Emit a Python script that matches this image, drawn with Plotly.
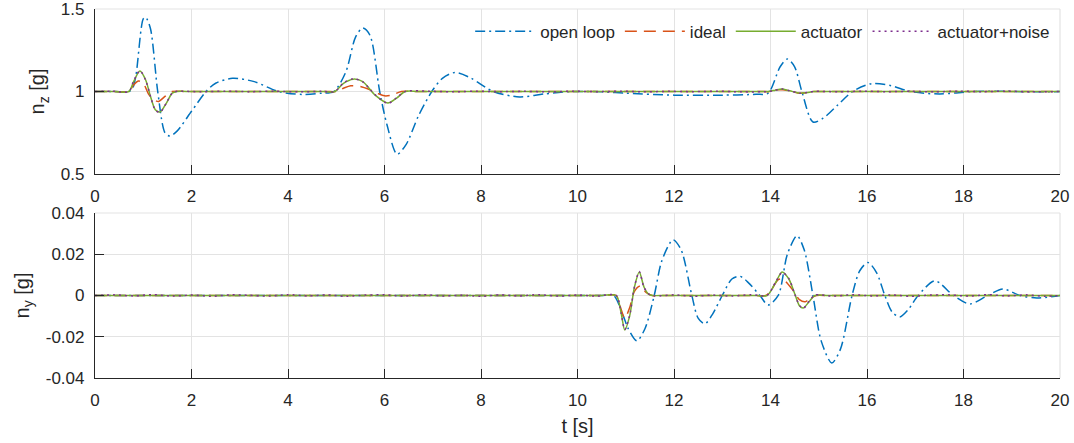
import plotly.graph_objects as go

# ---------------- data: top panel (n_z [g]) ----------------
t_nz_ol = [0, 0.4, 0.7, 0.78, 0.85, 1.0, 1.05, 1.15, 1.3, 1.45, 1.55, 1.7, 2.0, 2.3, 2.5, 2.85, 3.3, 3.8, 4.3, 4.7,
           4.95, 5.2, 5.4, 5.55, 5.7, 5.9, 6.05, 6.26, 6.45, 6.7, 6.98, 7.2, 7.46, 7.8, 8.25, 8.8, 9.3, 9.9,
           10.5, 11.0, 12.0, 13.0, 13.7, 13.95, 14.2, 14.35, 14.5, 14.65, 14.88, 15.1, 15.4, 15.7, 16.1,
           16.5, 16.9, 17.5, 18.2, 18.7, 19.5, 20]
nz_ol = [1.0, 1.0, 1.0, 1.02, 1.1, 1.44, 1.45, 1.38, 1.0, 0.75, 0.73, 0.76, 0.88, 1.0, 1.05, 1.08, 1.06, 1.0, 0.982, 0.99,
         1.0, 1.12, 1.33, 1.385, 1.34, 1.0, 0.8, 0.62, 0.68, 0.85, 1.0, 1.08, 1.115, 1.08, 1.0, 0.967, 0.985, 1.0,
         0.998, 0.99, 0.978, 0.978, 0.983, 0.99, 1.15, 1.197, 1.15, 1.0, 0.815, 0.84, 0.92, 1.0, 1.048,
         1.035, 1.0, 0.985, 1.0, 1.002, 0.998, 1.0]

t_nz_ideal = [0, 0.4, 0.7, 0.8, 0.9, 1.0, 1.12, 1.25, 1.32, 1.45, 1.6, 1.9, 2.5, 3.5, 4.5, 4.8, 5.0, 5.15, 5.3,
              5.5, 5.7, 5.85, 6.0, 6.15, 6.35, 6.6, 7.5, 8.5, 9.5, 10.5, 11.5, 12.5, 13.5, 13.8, 14.0, 14.1,
              14.25, 14.45, 14.6, 14.75, 14.9, 15.2, 16, 17, 18, 19, 20]
nz_ideal = [1.0, 1.0, 1.0, 1.04, 1.064, 1.05, 0.98, 0.945, 0.94, 0.97, 1.0, 1.0, 1.0, 1.0, 1.0, 1.0, 1.0, 1.02,
            1.035, 1.03, 1.01, 0.99, 0.974, 0.978, 1.0, 1.0, 1.0, 1.0, 1.0, 1.0, 1.0, 1.0, 1.0, 1.0, 1.0, 1.01,
            1.01, 1.0, 0.99, 0.992, 1.0, 1.0, 1.0, 1.0, 1.0, 1.0, 1.0]

t_nz_act = [0, 0.4, 0.7, 0.8, 0.93, 1.05, 1.15, 1.25, 1.35, 1.48, 1.6, 1.7, 2.0, 2.5, 3.5, 4.5, 4.75, 4.97,
            5.15, 5.35, 5.55, 5.8, 6.07, 6.25, 6.43, 6.7, 7.5, 8.5, 9.5, 10.5, 11.5, 12.5, 13.5, 13.75, 13.95,
            14.1, 14.23, 14.4, 14.6, 14.75, 14.9, 15.2, 16, 17, 18, 19, 20]
nz_act = [1.0, 1.0, 1.0, 1.06, 1.124, 1.07, 0.97, 0.89, 0.876, 0.93, 0.99, 1.0, 1.0, 1.0, 1.0, 1.0, 1.0, 1.0,
          1.05, 1.075, 1.06, 0.98, 0.93, 0.96, 1.0, 1.0, 1.0, 1.0, 1.0, 1.0, 1.0, 1.0, 1.0, 1.0, 1.0,
          1.008, 1.015, 1.004, 0.99, 0.993, 1.0, 1.0, 1.0, 1.0, 1.0, 1.0, 1.0]

t_nz_noise = [0, 0.35, 0.7, 0.8, 0.93, 1.05, 1.15, 1.25, 1.35, 1.48, 1.6, 1.7, 2.2, 2.7, 3.2, 3.7, 4.2, 4.7,
              4.97, 5.15, 5.35, 5.55, 5.8, 6.07, 6.25, 6.43, 6.9, 7.4, 7.9, 8.4, 8.9, 9.4, 9.9, 10.4, 10.9,
              11.4, 11.9, 12.4, 12.9, 13.4, 13.95, 14.1, 14.23, 14.4, 14.6, 14.75, 14.9, 15.4, 15.9, 16.4,
              16.9, 17.4, 17.9, 18.4, 18.9, 19.4, 20]
nz_noise = [1.0, 1.002, 1.0, 1.062, 1.126, 1.068, 0.972, 0.888, 0.874, 0.932, 0.99, 1.001, 0.998, 1.002, 0.999,
            1.002, 0.998, 1.001, 1.0, 1.052, 1.077, 1.058, 0.982, 0.928, 0.962, 1.0, 1.002, 0.998, 1.002,
            0.999, 1.001, 0.998, 1.002, 0.999, 1.002, 0.998, 1.001, 0.999, 1.002, 0.998, 1.0, 1.008, 1.016,
            1.004, 0.99, 0.994, 1.001, 0.998, 1.002, 0.999, 1.001, 0.998, 1.002, 0.999, 1.002, 0.998, 1.0]

# ---------------- data: bottom panel (n_y [g]) ----------------
t_ny_ol = [0, 2, 4, 6, 8, 10, 10.5, 10.75, 10.95, 11.05, 11.23, 11.4, 11.59, 11.75, 11.98, 12.15, 12.37, 12.5,
           12.64, 12.8, 13.0, 13.2, 13.37, 13.55, 13.78, 13.95, 14.16, 14.35, 14.55, 14.7, 14.88, 15.05, 15.27,
           15.45, 15.69, 15.85, 16.02, 16.2, 16.37, 16.52, 16.68, 16.85, 17.06, 17.41, 17.79, 18.13, 18.5,
           18.82, 19.17, 19.52, 20]
ny_ol = [0, 0, 0, 0, 0, 0, 0, 0, -0.01, -0.016, -0.022, -0.016, 0, 0.017, 0.027, 0.022, 0, -0.011,
         -0.0138, -0.009, 0, 0.008, 0.0093, 0.006, 0, -0.0046, 0, 0.02, 0.029, 0.022, 0, -0.022, -0.0327,
         -0.026, 0, 0.012, 0.016, 0.011, 0, -0.008, -0.0104, -0.007, 0, 0.0071, 0, -0.0041, 0,
         0.0031, 0, -0.0012, 0]

t_ny_ideal = [0, 2, 4, 6, 8, 10, 10.5, 10.8, 10.88, 10.98, 11.08, 11.18, 11.3, 11.42, 11.55, 11.8, 12.5, 13.3,
              13.7, 13.9, 14.0, 14.15, 14.25, 14.47, 14.6, 14.72, 14.85, 14.95, 15.2, 16, 17, 18, 19, 20]
ny_ideal = [0, 0, 0, 0, 0, 0, 0, 0, -0.005, -0.011, -0.006, 0.002, 0.0046, 0.0015, 0, 0, 0, 0,
            0, 0, 0.002, 0.0075, 0.008, 0.0024, -0.002, -0.003, -0.001, 0, 0, 0, 0, 0, 0, 0]

t_ny_act = [0, 2, 4, 6, 8, 10, 10.5, 10.8, 10.9, 10.98, 11.08, 11.18, 11.28, 11.38, 11.48, 11.55, 11.8, 12.5,
            13.3, 13.7, 13.93, 14.1, 14.24, 14.38, 14.5, 14.6, 14.68, 14.8, 14.92, 15.2, 16, 17, 18, 19, 20]
ny_act = [0, 0, 0, 0, 0, 0, 0, 0, -0.008, -0.0167, -0.01, 0.004, 0.0114, 0.004, 0.0005, 0, 0, 0,
          0, 0, 0, 0.006, 0.0114, 0.008, 0.001, -0.005, -0.0061, -0.003, 0, 0, 0, 0, 0, 0, 0]

t_ny_noise = [0, 0.4, 0.8, 1.2, 1.6, 2.0, 2.4, 2.8, 3.2, 3.6, 4.0, 4.4, 4.8, 5.2, 5.6, 6.0, 6.4, 6.8, 7.2, 7.6,
              8.0, 8.4, 8.8, 9.2, 9.6, 10.0, 10.4, 10.8, 10.9, 10.98, 11.08, 11.18, 11.28, 11.38, 11.48, 11.6,
              12.0, 12.4, 12.8, 13.2, 13.6, 13.93, 14.1, 14.24, 14.38, 14.5, 14.6, 14.68, 14.8, 14.92, 15.3,
              15.7, 16.1, 16.5, 16.9, 17.3, 17.7, 18.1, 18.5, 18.9, 19.3, 19.7, 20]
ny_noise = [0, 0.0003, -0.0002, 0.0004, -0.0003, 0.0002, -0.0004, 0.0003, 0.0001, -0.0003, 0.0004, -0.0002,
            0.0003, -0.0004, 0.0002, 0.0003, -0.0003, 0.0004, -0.0002, 0.0001, -0.0004, 0.0003, -0.0002,
            0.0004, -0.0003, 0.0002, -0.0003, 0.0001, -0.0082, -0.0165, -0.0098, 0.0042, 0.0116, 0.0038,
            0.0007, -0.0002, 0.0003, -0.0004, 0.0002, -0.0003, 0.0004, 0.0001, 0.0062, 0.0112, 0.0082,
            0.0008, -0.0048, -0.0063, -0.0028, 0.0002, -0.0003, 0.0004, -0.0002, 0.0003, -0.0004, 0.0002,
            0.0003, -0.0003, 0.0004, -0.0002, 0.0003, -0.0004, 0]

x_ticks = [0, 2, 4, 6, 8, 10, 12, 14, 16, 18, 20]
nz_ticks = [0.5, 1, 1.5]
nz_ticktext = ["0.5", "1", "1.5"]
ny_ticks = [-0.04, -0.02, 0, 0.02, 0.04]
ny_ticktext = ["-0.04", "-0.02", "0", "0.02", "0.04"]

names = ["open loop", "ideal", "actuator", "actuator+noise"]
colors = ["#0072BD", "#D95319", "#77AC30", "#7E2F8E"]
dashes = ["10px,4px,2px,4px", "12px,7px", "solid", "2px,4px"]

fig = go.Figure()

top = [(t_nz_ol, nz_ol), (t_nz_ideal, nz_ideal), (t_nz_act, nz_act), (t_nz_noise, nz_noise)]
bot = [(t_ny_ol, ny_ol), (t_ny_ideal, ny_ideal), (t_ny_act, ny_act), (t_ny_noise, ny_noise)]

for i, (tt, vv) in enumerate(top):
    fig.add_trace(go.Scatter(x=tt, y=vv, mode="lines", name=names[i],
                             line=dict(color=colors[i], width=1.5, dash=dashes[i], shape="spline", smoothing=0.8),
                             xaxis="x", yaxis="y", legendgroup=names[i]))
for i, (tt, vv) in enumerate(bot):
    fig.add_trace(go.Scatter(x=tt, y=vv, mode="lines", name=names[i], showlegend=False,
                             line=dict(color=colors[i], width=1.5, dash=dashes[i], shape="spline", smoothing=0.8),
                             xaxis="x2", yaxis="y2", legendgroup=names[i]))

font = "Liberation Sans, Arial, sans-serif"
axcol = "#262626"
gridcol = "#e3e3e3"

common_x = dict(range=[0, 20], tickvals=x_ticks, showgrid=True, gridcolor=gridcol, gridwidth=1,
                showline=True, linecolor=axcol, linewidth=1.2, ticks="inside", ticklen=9, tickcolor=axcol,
                tickfont=dict(size=17, color=axcol, family=font), zeroline=False, ticklabelstandoff=6,
                automargin=False, ticklabeloverflow="allow")
common_y = dict(showgrid=True, gridcolor=gridcol, gridwidth=1, showline=True, linecolor=axcol, linewidth=1.2,
                ticks="inside", ticklen=9, tickcolor=axcol, tickfont=dict(size=17, color=axcol, family=font),
                zeroline=False, ticklabelstandoff=6, automargin=False, ticklabeloverflow="allow")

fig.update_layout(
    width=1074, height=443,
    margin=dict(l=95, r=14, t=9, b=65, autoexpand=False),
    paper_bgcolor="white", plot_bgcolor="white",
    font=dict(family=font, color=axcol, size=17),
    xaxis=dict(domain=[0, 1], anchor="y", **common_x),
    yaxis=dict(domain=[0.5528, 1], anchor="x", range=[0.5, 1.5], tickvals=nz_ticks, ticktext=nz_ticktext,
               title=dict(text="n<sub>z</sub> [g]", font=dict(size=20, family=font, color=axcol), standoff=10),
               **common_y),
    xaxis2=dict(domain=[0, 1], anchor="y2",
                title=dict(text="t [s]", font=dict(size=20, family=font, color=axcol), standoff=10),
                **common_x),
    yaxis2=dict(domain=[0, 0.4472], anchor="x2", range=[-0.04, 0.04], tickvals=ny_ticks, ticktext=ny_ticktext,
                title=dict(text="n<sub>y</sub> [g]", font=dict(size=20, family=font, color=axcol), standoff=10),
                **common_y),
    legend=dict(orientation="h", x=0.995, xanchor="right", y=0.987, yanchor="top",
                bgcolor="rgba(0,0,0,0)", borderwidth=0, font=dict(size=17, family=font, color=axcol),
                itemwidth=60, tracegroupgap=0),
    showlegend=True,
)

# light top/right borders like the reference box
for xr, yr in [("x domain", "y domain"), ("x2 domain", "y2 domain")]:
    fig.add_shape(type="line", xref=xr, yref=yr, x0=0, x1=1, y0=1, y1=1, line=dict(color=gridcol, width=1.2), layer="below")
    fig.add_shape(type="line", xref=xr, yref=yr, x0=1, x1=1, y0=0, y1=1, line=dict(color=gridcol, width=1.2), layer="below")

fig.write_html("out.html")
